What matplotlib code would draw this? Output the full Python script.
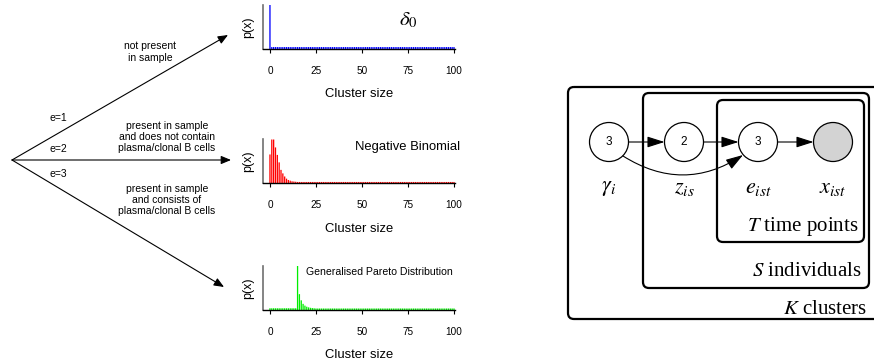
import numpy as np
import matplotlib
matplotlib.use("Agg")
import matplotlib.pyplot as plt
from matplotlib.patches import Circle, FancyBboxPatch, FancyArrowPatch

plt.rcParams['font.family'] = ['Liberation Sans', 'DejaVu Sans']
plt.rcParams['mathtext.fontset'] = 'stix'

# ---- data ----
cluster_sizes = np.arange(0, 101)
tick_values = [0, 25, 50, 75, 100]
tick_labels = ['0', '25', '50', '75', '100']

delta_probs = [1.0] + [0.045] * 100
negbin_probs = [0.66, 1.0, 1.0, 0.82, 0.65, 0.48, 0.31, 0.23, 0.16, 0.11,
                0.08, 0.065, 0.05, 0.045, 0.04] + [0.035] * 86
pareto_probs = [0.04] * 15 + [1.0, 0.36, 0.22, 0.14, 0.10, 0.075, 0.06,
                              0.05, 0.045, 0.04] + [0.035] * 76

branch_labels = ['e=1', 'e=2', 'e=3']
branch_texts = ['not present\nin sample',
                'present in sample\nand does not contain\nplasma/clonal B cells',
                'present in sample\nand consists of\nplasma/clonal B cells']

W, H = 874, 362
fig = plt.figure(figsize=(W / 100, H / 100), dpi=100)

# overlay in pixel units for the diagram parts
ov = fig.add_axes([0, 0, 1, 1])
ov.set_xlim(0, W)
ov.set_ylim(H, 0)
ov.axis('off')

# tree of arrows on the left
origin = (12, 160)
tips = [(228, 35), (231, 160), (224, 287)]
for tip in tips:
    ov.add_patch(FancyArrowPatch(origin, tip, arrowstyle='-|>,head_length=0.6,head_width=0.25',
                                 mutation_scale=10, lw=0.8, color='black',
                                 shrinkA=0, shrinkB=0))
for lab, y in zip(branch_labels, [118, 149, 174]):
    ov.text(49, y, lab, fontsize=7.5, ha='left', va='center')
for txt, (x, y) in zip(branch_texts, [(150, 52), (167, 137), (167, 200)]):
    ov.text(x, y, txt, fontsize=7.5, ha='center', va='center', linespacing=1.15)


def panel(base_px, values, color, title, tx, ty, tsize, ha):
    left, right = 262.6, 455.1
    ax = fig.add_axes([left / W, 1 - base_px / H, (right - left) / W, 44 / H])
    ax.bar(cluster_sizes, values, width=0.7, color=color, edgecolor='none',
           linewidth=0, snap=False)
    ax.set_xlim(-4, 100.6)
    ax.set_ylim(0, max(values))
    ax.spines['top'].set_visible(False)
    ax.spines['right'].set_visible(False)
    ax.spines['left'].set_color('#707070')
    ax.spines['left'].set_linewidth(1.2)
    ax.spines['bottom'].set_linewidth(1.0)
    ax.set_yticks([])
    ax.set_xticks(tick_values)
    ax.set_xticklabels(tick_labels)
    ax.tick_params(axis='x', length=3, width=0.8, pad=9, labelsize=7.2)
    ax.set_xlabel('Cluster size', fontsize=9.4, labelpad=9)
    ax.set_ylabel('p(x)', fontsize=9, labelpad=6)
    ax.text(tx, ty, title, fontsize=tsize, ha=ha, va='center', clip_on=False)
    ax.patch.set_alpha(0)
    return ax


panel(49, delta_probs, '#0000ff', r'$\delta_0$', 75, 0.66, 15, 'center')
panel(183.5, negbin_probs, '#ff0000', 'Negative Binomial', 103.3, 0.83, 9.4, 'right')
panel(310, pareto_probs, '#00ee00', 'Generalised Pareto Distribution', 99.5, 0.86, 7.6, 'right')

# ---- plate diagram ----
boxes = [(568, 87, 900, 319), (643, 93, 869, 288), (717, 100, 864, 242)]
for x0, y0, x1, y1 in boxes:
    ov.add_patch(FancyBboxPatch((x0, y0), x1 - x0, y1 - y0,
                                boxstyle='round,pad=0,rounding_size=6',
                                fill=False, lw=1.6, ec='black', clip_on=False))

node_x = [609, 684, 758, 833]
node_y = 142
r = 19.5
node_text = ['3', '2', '3', '']
node_fill = ['white', 'white', 'white', '#d3d3d3']
for x, t, fc in zip(node_x, node_text, node_fill):
    ov.add_patch(Circle((x, node_y), r, fc=fc, ec='black', lw=0.9, zorder=3))
    if t:
        ov.text(x, node_y, t, fontsize=8.5, ha='center', va='center', zorder=4)

astyle = '-|>,head_length=0.66,head_width=0.21'
for a, b in zip(node_x[:-1], node_x[1:]):
    ov.add_patch(FancyArrowPatch((a + r, node_y), (b - r, node_y), arrowstyle=astyle,
                                 mutation_scale=16, lw=0.8, color='black',
                                 shrinkA=0, shrinkB=0, zorder=5))
ov.add_patch(FancyArrowPatch((623, 156), (743, 155), arrowstyle=astyle,
                             connectionstyle='arc3,rad=0.32',
                             mutation_scale=16, lw=0.8, color='black',
                             shrinkA=0, shrinkB=0, zorder=5))

node_labels = [r'$\gamma_i$', r'$z_{is}$', r'$e_{ist}$', r'$x_{ist}$']
for x, lab in zip(node_x, node_labels):
    ov.text(x, 188, lab, fontsize=16, ha='center', va='center')

serif = ['Liberation Serif', 'DejaVu Serif']
ov.text(858, 226, r'$T$ time points', fontsize=15, ha='right', va='center', family=serif)
ov.text(862, 271, r'$S$ individuals', fontsize=15, ha='right', va='center', family=serif)
ov.text(867, 309, r'$K$ clusters', fontsize=15, ha='right', va='center', family=serif)

fig.savefig('out.png', dpi=100)
